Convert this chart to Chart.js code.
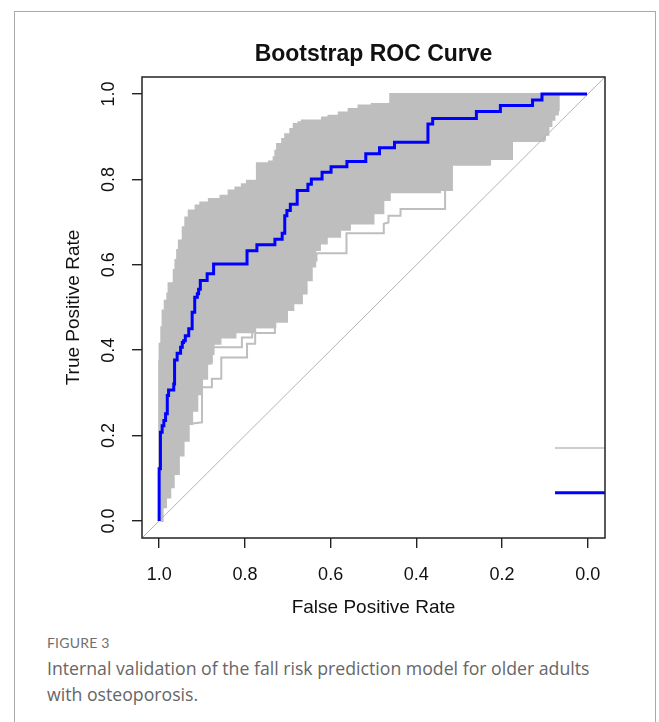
<!DOCTYPE html>
<html>
<head>
<meta charset="utf-8">
<script src="https://cdn.jsdelivr.net/npm/chart.js@4"></script>
<style>
  body { margin: 0; background: #fff; overflow: hidden; }
  #frame { position: absolute; left: 14px; top: 11px; width: 640px; height: 800px; border: 1px solid #aaa; border-bottom: none; }
  #roc { position: absolute; left: 0; top: 0; }
  #figLabel { position: absolute; left: 47px; top: 632px; font: 14px Lato, "Open Sans", sans-serif; line-height: 22px; color: #707070; letter-spacing: 0.2px; }
  #caption { position: absolute; left: 47px; top: 655px; width: 600px; font: 17.7px "Open Sans", Lato, sans-serif; line-height: 26px; color: #666; white-space: nowrap; }
</style>
</head>
<body>
<div id="frame"></div>
<canvas id="roc" width="659" height="630"></canvas>
<div id="figLabel">FIGURE 3</div>
<div id="caption">Internal validation of the fall risk prediction model for older adults<br>with osteoporosis.</div>

<script>
// 축 눈금
const xTicks = [1.0, 0.8, 0.6, 0.4, 0.2, 0.0];
const yTicks = [0.0, 0.2, 0.4, 0.6, 0.8, 1.0];

// 원래 ROC 곡선 (계단): 각 단계의 민감도와 끝나는 특이도
const blueSens = [0.122, 0.208, 0.223, 0.235, 0.251, 0.294, 0.307, 0.321, 0.377, 0.393, 0.407,
  0.418, 0.422, 0.434, 0.450, 0.489, 0.524, 0.532, 0.543, 0.563, 0.579, 0.602, 0.633, 0.647,
  0.660, 0.674, 0.715, 0.727, 0.742, 0.774, 0.789, 0.801, 0.817, 0.830, 0.842, 0.860, 0.874,
  0.887, 0.930, 0.943, 0.959, 0.973, 0.986, 1.000];
const blueSpec = [0.997, 0.993, 0.989, 0.985, 0.981, 0.978, 0.966, 0.964, 0.958, 0.950, 0.946,
  0.943, 0.939, 0.931, 0.923, 0.917, 0.911, 0.908, 0.904, 0.888, 0.873, 0.795, 0.772, 0.730,
  0.713, 0.707, 0.702, 0.694, 0.678, 0.653, 0.645, 0.620, 0.599, 0.562, 0.518, 0.486, 0.451,
  0.373, 0.362, 0.260, 0.204, 0.129, 0.107, 0.002];

// 부트스트랩 곡선 묶음 (특이도, 민감도) 외곽
const bandEdge = [
  [1.000, 0.000], [1.000, 0.188], [1.000, 0.344], [0.999, 0.375], [0.995, 0.415], [0.992, 0.454],
  [0.987, 0.493], [0.981, 0.516], [0.978, 0.533], [0.974, 0.557], [0.966, 0.557], [0.966, 0.588],
  [0.962, 0.588], [0.958, 0.611], [0.954, 0.635], [0.945, 0.657], [0.939, 0.688], [0.931, 0.711],
  [0.915, 0.727], [0.904, 0.739], [0.884, 0.746], [0.857, 0.754], [0.838, 0.762], [0.822, 0.774],
  [0.807, 0.781], [0.795, 0.789], [0.779, 0.797], [0.772, 0.797], [0.772, 0.832], [0.744, 0.838],
  [0.733, 0.842], [0.729, 0.852], [0.725, 0.867], [0.713, 0.883], [0.706, 0.895], [0.694, 0.906],
  [0.686, 0.918], [0.675, 0.930], [0.667, 0.934], [0.620, 0.938], [0.605, 0.945], [0.581, 0.949],
  [0.558, 0.957], [0.535, 0.965], [0.504, 0.973], [0.461, 0.977], [0.461, 1.000], [0.068, 1.000],
  [0.070, 0.962], [0.078, 0.952], [0.085, 0.940], [0.092, 0.925], [0.100, 0.905], [0.103, 0.893],
  [0.177, 0.890], [0.228, 0.850], [0.317, 0.835], [0.345, 0.775], [0.462, 0.770], [0.477, 0.752],
  [0.500, 0.721], [0.555, 0.697], [0.578, 0.682], [0.609, 0.666],
  [0.625, 0.650], [0.636, 0.635], [0.644, 0.596], [0.656, 0.564], [0.667, 0.533], [0.687, 0.510],
  [0.702, 0.494], [0.730, 0.467], [0.776, 0.454], [0.822, 0.442], [0.857, 0.430], [0.873, 0.415],
  [0.880, 0.391], [0.888, 0.368], [0.900, 0.333], [0.911, 0.297], [0.923, 0.258], [0.931, 0.227],
  [0.943, 0.188], [0.954, 0.153], [0.966, 0.110], [0.974, 0.079], [0.984, 0.055], [0.992, 0.032],
  [0.997, 0.000],
];

// 묶음 밖으로 튀어나온 부트스트랩 곡선들
const outlierA = [
  [0.931, 0.227], [0.900, 0.231], [0.900, 0.313], [0.877, 0.313], [0.877, 0.333], [0.855, 0.333],
  [0.855, 0.383], [0.795, 0.383], [0.795, 0.415], [0.776, 0.415], [0.776, 0.440], [0.730, 0.440],
  [0.730, 0.467], [0.702, 0.467], [0.702, 0.494], [0.687, 0.500],
];
const outlierB = [
  [0.644, 0.610], [0.633, 0.610], [0.633, 0.627], [0.563, 0.627], [0.563, 0.674], [0.539, 0.674],
  [0.476, 0.674], [0.476, 0.696], [0.465, 0.699], [0.465, 0.715], [0.437, 0.715], [0.437, 0.731],
  [0.333, 0.731], [0.333, 0.835], [0.232, 0.835], [0.232, 0.848], [0.177, 0.848], [0.177, 0.891],
  [0.111, 0.891],
];
const outlierC = [
  [0.877, 0.368], [0.877, 0.407], [0.807, 0.407], [0.807, 0.430], [0.783, 0.430], [0.783, 0.454],
  [0.729, 0.454], [0.729, 0.477],
];

const diagonal = [[1.04, -0.04], [-0.04, 1.04]];

const GRAY = "#bebebe";
const BLUE = "#0000ff";
const INK = "#111";
const R_FONT = "'Liberation Sans', Arial, sans-serif";

function toPoints(pairs) {
  return pairs.map((p) => ({ x: p[0], y: p[1] }));
}

// 계단 곡선 꼭짓점 만들기 (세로 먼저, 그다음 가로)
function stepPoints(spec, sens) {
  const pts = [{ x: 1, y: 0 }];
  let prevX = 1;
  for (let i = 0; i < sens.length; i++) {
    pts.push({ x: prevX, y: sens[i] });
    pts.push({ x: spec[i], y: sens[i] });
    prevX = spec[i];
  }
  return pts;
}

// 플롯 상자와 잘린 범례 선
const boxPlugin = {
  id: "rbox",
  afterDatasetsDraw(chart) {
    const { ctx, chartArea: a } = chart;
    ctx.save();
    ctx.beginPath();
    ctx.rect(a.left, a.top, a.right - a.left, a.bottom - a.top);
    ctx.clip();
    const h = a.bottom - a.top;
    ctx.lineWidth = 1.5;
    ctx.strokeStyle = GRAY;
    ctx.beginPath();
    ctx.moveTo(a.right - 50, a.top + h * 0.805);
    ctx.lineTo(a.right + 20, a.top + h * 0.805);
    ctx.stroke();
    ctx.lineWidth = 3;
    ctx.strokeStyle = BLUE;
    ctx.beginPath();
    ctx.moveTo(a.right - 50, a.top + h * 0.902);
    ctx.lineTo(a.right + 20, a.top + h * 0.902);
    ctx.stroke();
    ctx.restore();
  },
  afterDraw(chart) {
    const { ctx, chartArea: a } = chart;
    ctx.save();
    ctx.lineWidth = 1.5;
    ctx.strokeStyle = "#222";
    ctx.strokeRect(a.left, a.top, a.right - a.left, a.bottom - a.top);
    ctx.restore();
  },
};

const lineBase = { pointRadius: 0, pointHoverRadius: 0, tension: 0, fill: false };

// Chart.js는 첫 데이터셋을 맨 위에 그린다
new Chart(document.getElementById("roc"), {
  type: "line",
  data: {
    datasets: [
      { ...lineBase, data: stepPoints(blueSpec, blueSens), borderColor: BLUE, borderWidth: 3 },
      { ...lineBase, data: toPoints(diagonal), borderColor: "#b4b4b4", borderWidth: 1 },
      { ...lineBase, data: toPoints(outlierA), borderColor: GRAY, borderWidth: 2 },
      { ...lineBase, data: toPoints(outlierB), borderColor: GRAY, borderWidth: 2 },
      { ...lineBase, data: toPoints(outlierC), borderColor: GRAY, borderWidth: 2 },
      { ...lineBase, data: toPoints(bandEdge), borderColor: GRAY, backgroundColor: GRAY, borderWidth: 2, fill: "shape", stepped: "after" },
    ],
  },
  options: {
    responsive: false,
    animation: false,
    layout: { padding: { left: 0, right: 54, top: 0, bottom: 0 } },
    plugins: {
      legend: { display: false },
      tooltip: { enabled: false },
      title: {
        display: true,
        text: "Bootstrap ROC Curve",
        fullSize: false,
        color: INK,
        font: { family: R_FONT, size: 23, weight: "bold" },
        padding: { top: 41, bottom: 8.4 },
      },
    },
    scales: {
      x: {
        type: "linear",
        reverse: true,
        min: -0.04,
        max: 1.04,
        afterBuildTicks: (s) => { s.ticks = xTicks.map((v) => ({ value: v })); },
        afterFit: (s) => { s.height = 92; },
        grid: { drawOnChartArea: false, drawTicks: true, tickLength: 10, tickColor: "#222", lineWidth: 1.4 },
        border: { display: false },
        ticks: { color: INK, font: { family: R_FONT, size: 18 }, padding: 16, maxRotation: 0, autoSkip: false, callback: (v) => Number(v).toFixed(1) },
        title: { display: true, text: "False Positive Rate", color: INK, font: { family: R_FONT, size: 19 }, padding: { top: 0, bottom: 10.6 } },
      },
      y: {
        type: "linear",
        min: -0.04,
        max: 1.04,
        afterBuildTicks: (s) => { s.ticks = yTicks.map((v) => ({ value: v })); },
        afterFit: (s) => { s.width = 142; },
        grid: { drawOnChartArea: false, drawTicks: true, tickLength: 10, tickColor: "#222", lineWidth: 1.4 },
        border: { display: false },
        ticks: { color: INK, font: { family: R_FONT, size: 18 }, padding: 10, minRotation: 90, maxRotation: 90, crossAlign: "center", autoSkip: false, callback: (v) => Number(v).toFixed(1) },
        title: { display: true, text: "True Positive Rate", color: INK, font: { family: R_FONT, size: 19 }, padding: { top: 62.6, bottom: 0 } },
      },
    },
  },
  plugins: [boxPlugin],
});
</script>
</body>
</html>
